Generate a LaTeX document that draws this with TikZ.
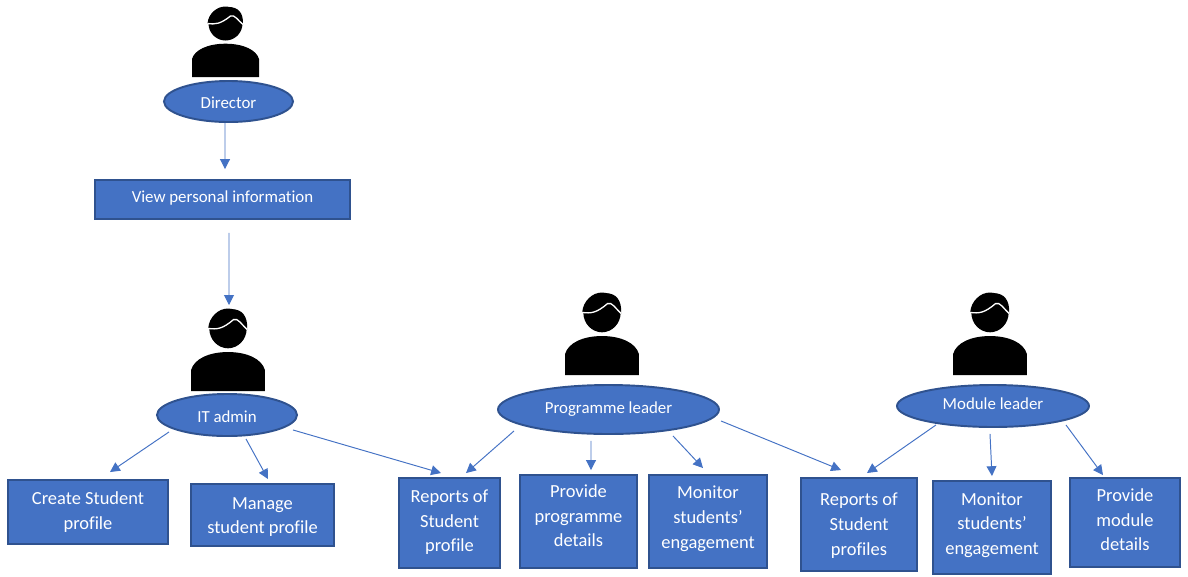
\documentclass[tikz,border=0pt]{standalone}
\usepackage{fontspec}
\setmainfont[Ligatures=NoCommon]{Carlito}
\usetikzlibrary{shapes.geometric,arrows.meta}
\definecolor{boxblue}{HTML}{4472C4}
\definecolor{boxline}{HTML}{2F528F}
\newcommand{\lifted}[2]{\raisebox{#1}[\height][\depth]{\begin{tabular}{@{}c@{}}#2\end{tabular}}}
\tikzset{
	x=0.02cm, y=-0.02cm,
	boxnode/.style={draw=boxline, line width=1.1pt, fill=boxblue, text=white, font=\fontsize{10.5}{14}\selectfont, inner sep=0pt},
	rolenode/.style={boxnode, ellipse, font=\fontsize{9.6}{14}\selectfont},
	flow/.style={-{Triangle[length=5.6pt,width=5.6pt]}, boxblue, line width=0.55pt},
	pics/person/.style={code={
		\fill[black] (-33.5,0) -- (-33.5,-18) .. controls (-31,-27) and (-18,-33.3) .. (0,-33.3) .. controls (18,-33.3) and (31,-27) .. (33.5,-18) -- (33.5,0) -- cycle;
		\fill[black] (0,-53.5) circle (17);
		\fill[black] (-18,-53.5) .. controls (-17,-64) and (-9,-70) .. (3,-70) .. controls (13,-70) and (18,-64) .. (17.5,-52.5) -- cycle;
		\draw[white, line width=0.75pt] (-18,-53.5) .. controls (-10,-52.5) and (-5,-53) .. (5,-61) .. controls (9,-63) and (13,-56) .. (17.5,-52.5);
	}}
}
\begin{document}
\begin{tikzpicture}
	\useasboundingbox (0,0) rectangle (1188,576);
	% people
	\pic at (225.5,77) {person};
	\pic[xscale=1.1,yscale=1.17] at (228,391) {person};
	\pic[xscale=1.1,yscale=1.17] at (602,375) {person};
	\pic[xscale=1.1,yscale=1.17] at (990,375) {person};
	% roles
	\node[rolenode, minimum width=129*0.02cm, minimum height=41*0.02cm] (director) at (228.5,101.5) {\lifted{-1.1pt}{Director}};
	\node[rolenode, minimum width=140*0.02cm, minimum height=42*0.02cm] (itadmin) at (227,415) {\lifted{-1.7pt}{IT admin}};
	\node[rolenode, minimum width=221*0.02cm, minimum height=49*0.02cm] (progleader) at (608.5,409.5) {\lifted{0.6pt}{Programme leader}};
	\node[rolenode, minimum width=192*0.02cm, minimum height=42*0.02cm] (modleader) at (993,406) {\lifted{0.6pt}{Module leader}};
	% boxes
	\node[boxnode, font=\fontsize{9.6}{14}\selectfont, minimum width=255*0.02cm, minimum height=39*0.02cm] (viewinfo) at (222.5,199.5) {\lifted{1.1pt}{View personal information}};
	\node[boxnode, minimum width=160*0.02cm, minimum height=64*0.02cm] (create) at (88,512) {\lifted{0pt}{Create Student\\profile}};
	\node[boxnode, minimum width=143*0.02cm, minimum height=62*0.02cm] (manage) at (262.5,515) {\lifted{-0.8pt}{Manage\\student profile}};
	\node[boxnode, minimum width=101*0.02cm, minimum height=90*0.02cm] (reportsa) at (449.5,523) {\lifted{0.3pt}{Reports of\\Student\\profile}};
	\node[boxnode, minimum width=117*0.02cm, minimum height=93*0.02cm] (provideprog) at (578.5,521.5) {\lifted{2.3pt}{Provide\\programme\\details}};
	\node[boxnode, minimum width=118*0.02cm, minimum height=93*0.02cm] (monitora) at (708,521.5) {\lifted{1.7pt}{Monitor\\students’\\engagement}};
	\node[boxnode, minimum width=116*0.02cm, minimum height=93*0.02cm] (reportsb) at (859,524.5) {\lifted{-0.6pt}{Reports of\\Student\\profiles}};
	\node[boxnode, minimum width=118*0.02cm, minimum height=93*0.02cm] (monitorb) at (992,527.5) {\lifted{1.4pt}{Monitor\\students’\\engagement}};
	\node[boxnode, minimum width=110*0.02cm, minimum height=89*0.02cm] (providemod) at (1125,522.5) {\lifted{0.6pt}{Provide\\module\\details}};
	% arrows
	\coordinate (itperson) at (229,305);
	\draw[flow] ([shift={(-3.5,0)}]director.south) -- ([shift={(2.5,-10)}]viewinfo.north);
	\draw[flow] ([shift={(6.5,13)}]viewinfo.south) -- (itperson);
	\draw[flow] ([shift={(-58,-5)}]itadmin.south) -- ([shift={(22,-7)}]create.north);
	\draw[flow] ([shift={(19,2)}]itadmin.south) -- ([shift={(5.5,-4)}]manage.north);
	\draw[flow] ([shift={(66,-7)}]itadmin.south) -- ([shift={(-8.5,-4)}]reportsa.north);
	\draw[flow] ([shift={(-94.5,-4)}]progleader.south) -- ([shift={(16.5,-4)}]reportsa.north);
	\draw[flow] ([shift={(-17.5,6)}]progleader.south) -- ([shift={(12.5,-4)}]provideprog.north);
	\draw[flow] ([shift={(64.5,1)}]progleader.south) -- ([shift={(-5,-6)}]monitora.north);
	\draw[flow] ([shift={(112.5,-14)}]progleader.south) -- ([shift={(-18,-7)}]reportsb.north);
	\draw[flow] ([shift={(-57,-3)}]modleader.south) -- ([shift={(8,-4)}]reportsb.north);
	\draw[flow] ([shift={(-3,6)}]modleader.south) -- ([shift={(0,-4)}]monitorb.north);
	\draw[flow] ([shift={(73,-3)}]modleader.south) -- ([shift={(-22,-2)}]providemod.north);
\end{tikzpicture}
\end{document}
